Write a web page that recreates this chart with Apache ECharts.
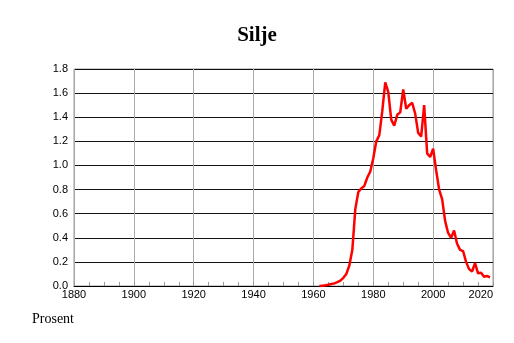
<!DOCTYPE html>
<html><head><meta charset="utf-8">
<script src="https://cdn.jsdelivr.net/npm/echarts@6/dist/echarts.min.js"></script>
<style>html,body{margin:0;padding:0;background:#fff}#c{width:514px;height:343px}</style>
</head><body><div id="c"></div>
<script>
const titleText = 'Silje';
const yLabel = 'Prosent';
const years = [1962,1963,1964,1965,1966,1967,1968,1969,1970,1971,1972,1973,1974,1975,1976,1977,1978,1979,
  1980,1981,1982,1983,1984,1985,1986,1987,1988,1989,1990,1991,1992,1993,1994,1995,1996,1997,1998,1999,
  2000,2001,2002,2003,2004,2005,2006,2007,2008,2009,2010,2011,2012,2013,2014,2015,2016,2017,2018,2019];
const values = [0.0,0.003,0.006,0.01,0.016,0.022,0.032,0.045,0.068,0.10,0.17,0.30,0.64,0.78,0.81,0.83,0.90,0.95,
  1.06,1.20,1.25,1.45,1.69,1.61,1.38,1.33,1.42,1.44,1.63,1.47,1.50,1.52,1.43,1.27,1.24,1.50,1.10,1.07,
  1.14,0.96,0.80,0.72,0.54,0.44,0.40,0.46,0.35,0.30,0.29,0.20,0.14,0.12,0.19,0.105,0.11,0.077,0.083,0.072];
const xMin = 1880, xMax = 2020, xStep = 20;
const yMin = 0, yMax = 1.8, yStep = 0.2;

const chart = echarts.init(document.getElementById('c'), null, {renderer: 'canvas'});
chart.setOption({
  animation: false,
  backgroundColor: '#fff',
  title: {
    text: titleText, left: 'center', top: 20,
    textStyle: {fontFamily: 'Liberation Serif', fontWeight: 'bold', fontSize: 21, color: '#000'}
  },
  graphic: [{
    type: 'text', left: 32, top: 312,
    style: {text: yLabel, font: '14px "Liberation Serif"', fill: '#000'}
  }],
  grid: {left: 74, right: 21, top: 69, bottom: 57, show: true, borderColor: '#999', borderWidth: 1},
  xAxis: {
    type: 'value', min: xMin, max: xMax, interval: xStep,
    axisLine: {show: true, lineStyle: {color: '#000', width: 1}},
    axisTick: {show: true, inside: true, length: 4, lineStyle: {color: '#999'}},
    minorTick: {show: true, splitNumber: 4, length: 4, lineStyle: {color: '#999'}},
    splitLine: {show: true, lineStyle: {color: '#aaa', width: 1}},
    axisLabel: {
      color: '#000', fontFamily: 'Liberation Sans', fontSize: 11, margin: 3,
      formatter: v => String(v),
      alignMaxLabel: 'right'
    }
  },
  yAxis: {
    type: 'value', min: yMin, max: yMax, interval: yStep,
    axisLine: {show: false},
    axisTick: {show: false},
    splitLine: {show: true, lineStyle: {color: '#111', width: 1}},
    axisLabel: {
      color: '#000', fontFamily: 'Liberation Sans', fontSize: 11, margin: 6,
      formatter: v => v.toFixed(1)
    }
  },
  series: [{
    type: 'line',
    data: years.map((y, i) => [y, values[i]]),
    showSymbol: false,
    lineStyle: {color: '#ff0000', width: 2.5},
    z: 5
  }]
});
</script></body></html>
